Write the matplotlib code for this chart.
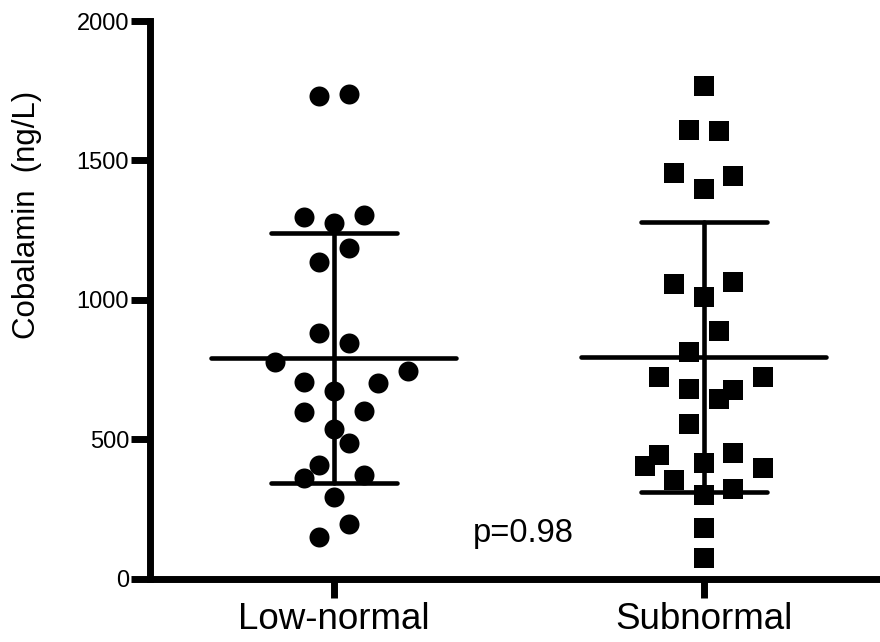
import numpy as np
import matplotlib
matplotlib.use('Agg')
import matplotlib.pyplot as plt

plt.rcParams['font.family'] = ['Liberation Sans', 'DejaVu Sans']

# values (ng/L)
groups = ['Low-normal', 'Subnormal']
low_normal = [1731, 1737, 1296, 1277, 1304, 1185, 1137, 880, 847, 778, 746, 705,
              701, 674, 597, 602, 536, 488, 409, 362, 372, 292, 198, 151]
subnormal = [1768, 1609, 1607, 1454, 1445, 1399, 1058, 1064, 1010, 888, 812, 725,
             723, 681, 677, 644, 555, 443, 452, 404, 414, 396, 354, 322, 300, 181, 74]
# horizontal scatter slot of every point (scatter dot plot layout)
low_slots = [-1, 1, -2, 0, 2, 1, -1, -1, 1, -4, 5, -2, 3, 0, -2, 2, 0, 1, -1, -2, 2, 0, 1, -1]
sub_slots = [0, -1, 1, -2, 2, 0, -2, 2, 0, 1, -1, -3, 4, -1, 2, 1, -1, -3, 2, -4, 0, 4, -2, 2, 0, 0, 0]
yticks = [0, 500, 1000, 1500, 2000]
p_text = 'p=0.98'

step = 0.04
fig = plt.figure(figsize=(8.8, 6.42), dpi=100)
ax = fig.add_axes([0.1705, 0.0984, 0.8295, 0.8688])

markers = ['o', 's']
sizes = [14.4, 13.9]
for i, (vals, slots) in enumerate([(low_normal, low_slots), (subnormal, sub_slots)]):
    vals = np.array(vals, dtype=float)
    xs = i + np.array(slots) * step
    ax.plot(xs, vals, linestyle='none', marker=markers[i], ms=sizes[i],
            color='black', markeredgewidth=0, zorder=3)
    m = vals.mean()
    sd = vals.std(ddof=1)
    kw = dict(color='black', lw=3.3, solid_capstyle='round', zorder=2)
    ax.plot([i - 0.331, i + 0.331], [m, m], **kw)
    ax.plot([i - 0.171, i + 0.171], [m + sd, m + sd], **kw)
    ax.plot([i - 0.171, i + 0.171], [m - sd, m - sd], **kw)
    ax.plot([i, i], [m - sd, m + sd], **kw)

ax.text(0.376, 132, p_text, fontsize=23.5, ha='left', va='baseline')

ax.set_xlim(-0.497, 1.476)
ax.set_ylim(0, 2000)
ax.set_xticks(range(len(groups)))
ax.set_xticklabels(groups, fontsize=26.5)
ax.set_yticks(yticks)
ax.set_yticklabels([str(t) for t in yticks], fontsize=17)
ax.tick_params(axis='x', length=14, width=5, pad=3)
ax.tick_params(axis='y', length=14, width=5, pad=1)
for s in ['top', 'right']:
    ax.spines[s].set_visible(False)
for s in ['left', 'bottom']:
    ax.spines[s].set_linewidth(5)
    ax.spines[s].set_capstyle('projecting')
ax.patch.set_alpha(0)

fig.text(27 / 880, 1 - 214.5 / 642, 'Cobalamin  (ng/L)', rotation=90,
         fontsize=22.5, ha='center', va='center')

fig.savefig('out.png', dpi=100)
